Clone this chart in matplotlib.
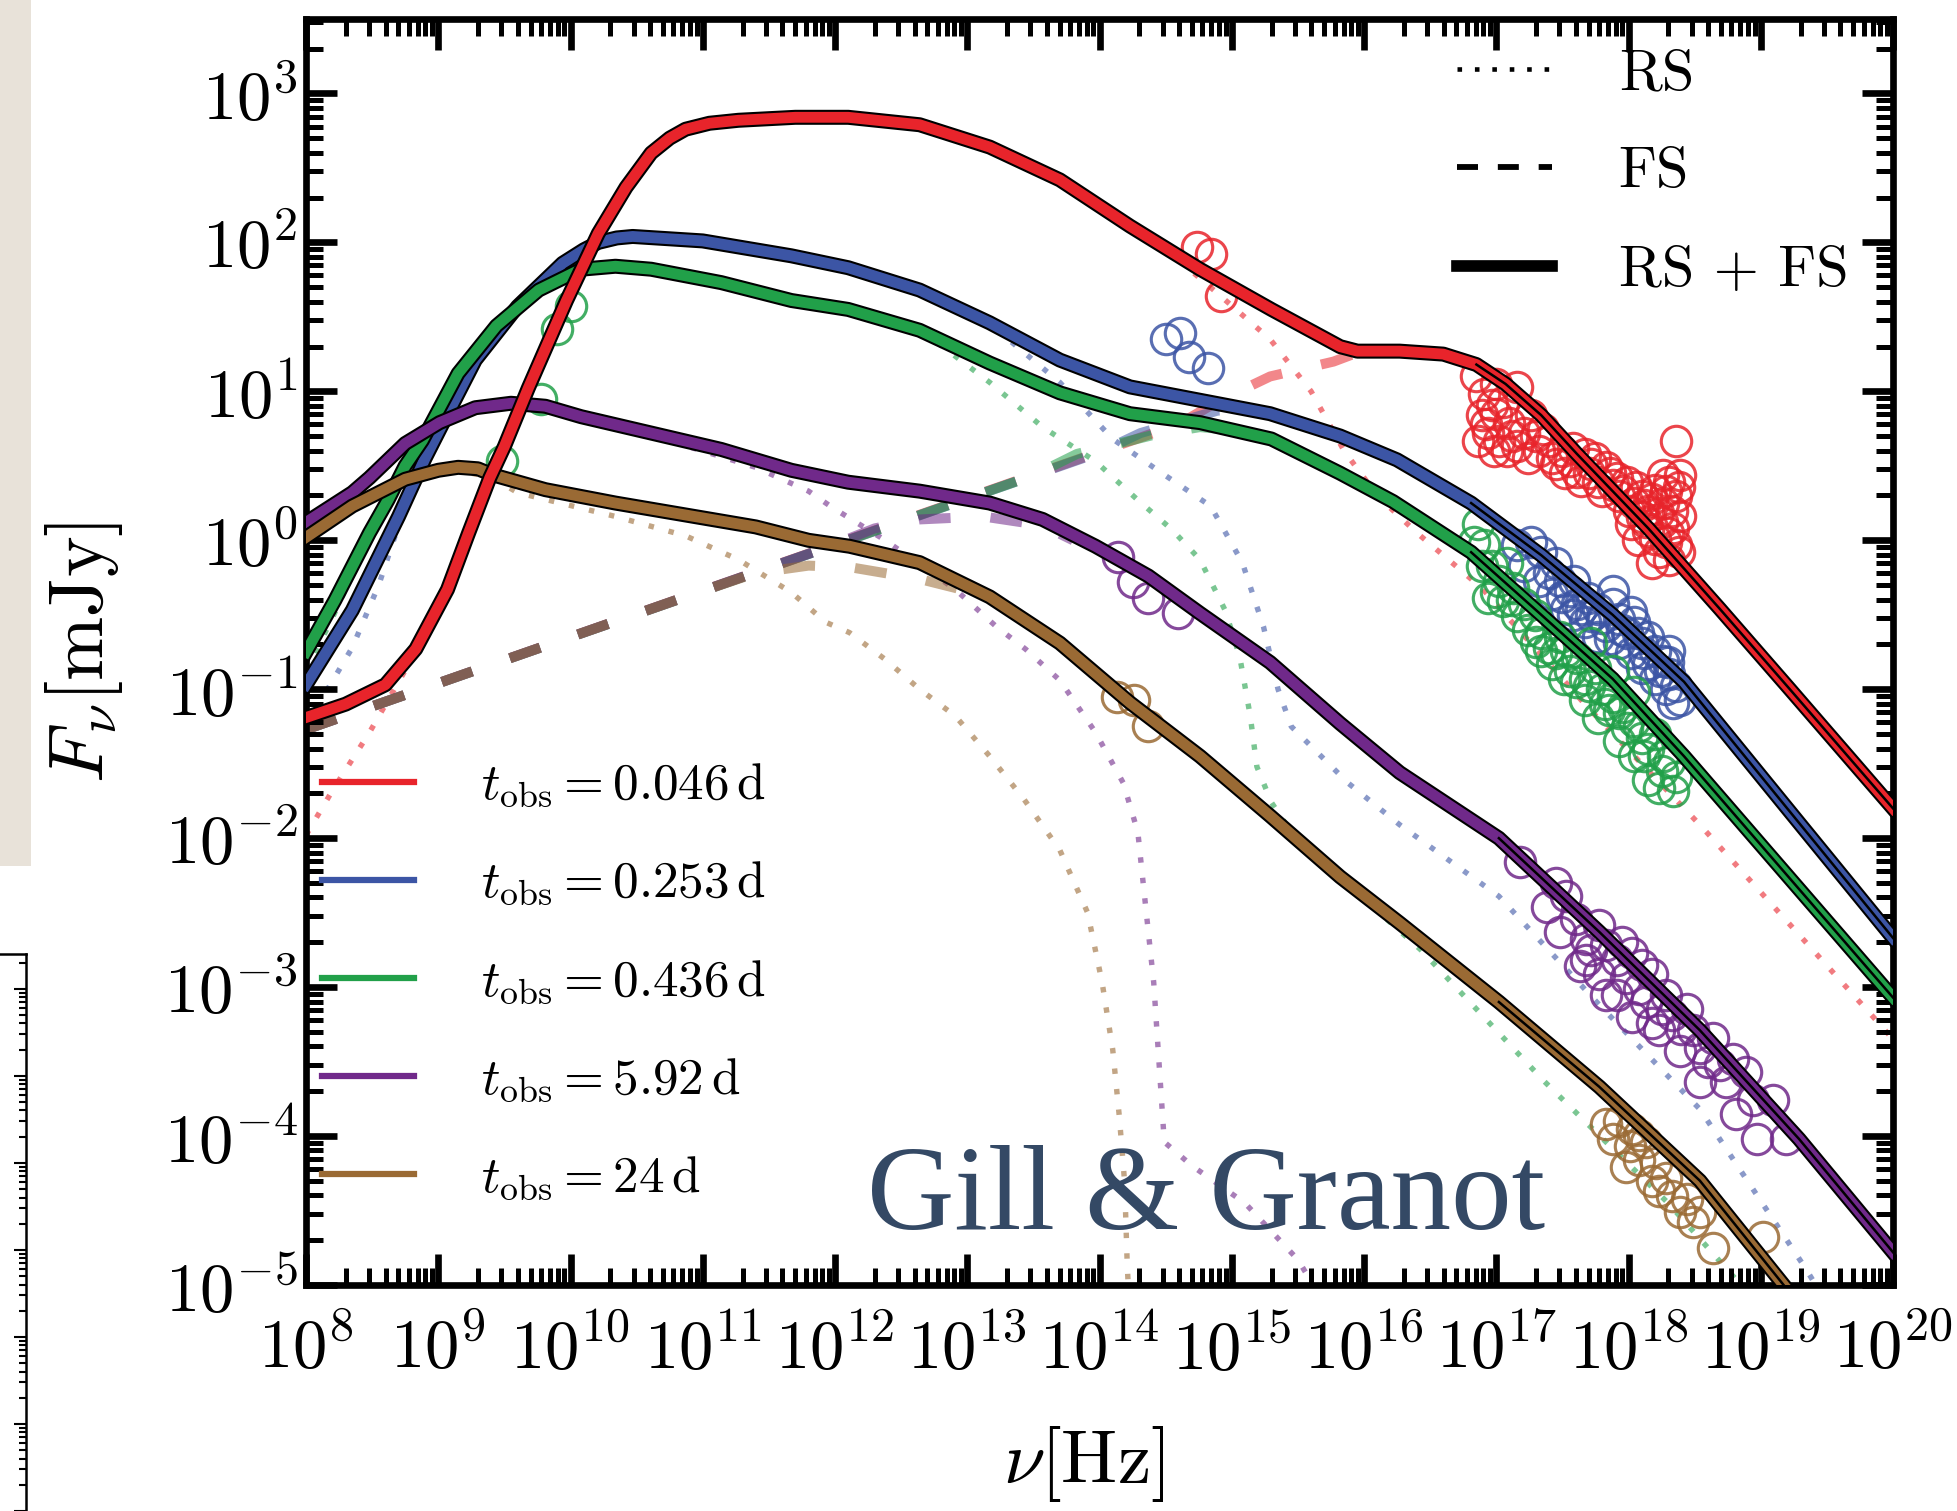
import numpy as np
import matplotlib
matplotlib.use('Agg')
import matplotlib.pyplot as plt
from matplotlib.lines import Line2D
from matplotlib.patches import Rectangle
from matplotlib.ticker import LogLocator, NullFormatter

plt.rcParams['font.family'] = 'serif'
plt.rcParams['font.serif'] = ['cmr10']
plt.rcParams['mathtext.fontset'] = 'cm'
plt.rcParams['axes.formatter.use_mathtext'] = True

# ---- data as log10(nu [Hz]), log10(F [mJy]) ----
t_obs = ['0.046', '0.253', '0.436', '5.92', '24']
colors = ['#e8242b', '#3c55a5', '#21a049', '#70298a', '#9a6a34']

# RS + FS (solid)
red_lx = [8.0, 8.3, 8.6, 8.83, 9.07, 9.23, 9.39, 9.5, 9.68, 9.97, 10.21, 10.42, 10.61, 10.75, 10.87, 11.05, 11.27,
          11.7, 12.1, 12.64, 13.17, 13.7, 14.23, 14.76, 15.3, 15.82, 15.95, 16.27, 16.6, 16.85, 17.07, 17.34, 17.61,
          18.15, 18.69, 19.22, 20.0]
red_ly = [-1.19, -1.1, -0.97, -0.73, -0.33, 0.05, 0.42, 0.63, 1.02, 1.61, 2.06, 2.37, 2.6, 2.7, 2.76, 2.8, 2.82,
          2.84, 2.84, 2.79, 2.64, 2.42, 2.11, 1.82, 1.55, 1.3, 1.27, 1.27, 1.25, 1.18, 1.05, 0.84, 0.58,
          0.08, -0.46, -1.0, -1.8]
blue_lx = [8.0, 8.35, 8.7, 8.9, 9.02, 9.28, 9.6, 9.94, 10.1, 10.21, 10.35, 10.47, 11.0, 11.67, 12.1, 12.64, 13.17,
           13.7, 14.23, 14.76, 15.29, 15.82, 16.25, 16.81, 17.34, 17.88, 18.42, 19.2, 20.0]
blue_ly = [-0.97, -0.47, 0.16, 0.55, 0.76, 1.21, 1.57, 1.86, 1.95, 2.0, 2.03, 2.04, 2.01, 1.91, 1.83, 1.68, 1.46,
           1.21, 1.03, 0.94, 0.85, 0.7, 0.54, 0.25, -0.1, -0.5, -0.95, -1.8, -2.67]
green_lx = [8.0, 8.22, 8.48, 8.62, 8.75, 8.88, 9.15, 9.44, 9.76, 10.08, 10.34, 10.61, 11.14, 11.67, 12.1, 12.64, 13.17,
            13.7, 14.23, 14.76, 15.3, 15.82, 16.22, 16.81, 17.34, 17.88, 18.42, 19.2, 20.0]
green_ly = [-0.75, -0.4, 0.05, 0.27, 0.5, 0.67, 1.12, 1.44, 1.68, 1.82, 1.84, 1.82, 1.73, 1.61, 1.55, 1.41, 1.19,
            0.99, 0.85, 0.79, 0.68, 0.45, 0.26, -0.08, -0.5, -0.93, -1.45, -2.25, -3.07]
purple_lx = [8.0, 8.35, 8.48, 8.75, 9.01, 9.28, 9.55, 9.81, 10.08, 10.61, 11.14, 11.67, 12.1, 12.64, 13.17, 13.57,
             13.97, 14.37, 14.76, 15.29, 15.82, 16.27, 17.02, 17.78, 18.54, 19.29, 20.0]
purple_ly = [0.12, 0.32, 0.42, 0.65, 0.79, 0.89, 0.92, 0.9, 0.83, 0.72, 0.61, 0.47, 0.39, 0.33, 0.25, 0.14,
             -0.04, -0.24, -0.49, -0.82, -1.23, -1.56, -2.0, -2.63, -3.29, -4.02, -4.78]
brown_lx = [8.0, 8.35, 8.75, 9.0, 9.15, 9.3, 9.41, 9.81, 10.34, 10.87, 11.4, 11.8, 12.11, 12.64, 13.17, 13.7, 14.23,
            14.76, 15.29, 15.82, 16.27, 17.02, 17.78, 18.54, 19.2]
brown_ly = [0.02, 0.23, 0.41, 0.47, 0.49, 0.48, 0.44, 0.34, 0.25, 0.17, 0.09, 0.0, -0.04, -0.15, -0.38, -0.69, -1.09,
            -1.45, -1.85, -2.26, -2.57, -3.1, -3.67, -4.3, -5.03]

# RS (dotted)
red_rs_lx = [8.0, 8.2, 8.48, 8.7, 8.83, 9.07, 9.23, 9.39, 9.5, 9.68, 9.97, 10.21, 10.42, 10.61, 10.87, 11.27, 11.7,
             12.1, 12.64, 13.17, 13.7, 14.23, 14.6, 14.89, 15.29, 15.6, 15.85, 16.1, 16.4, 16.89, 17.69, 18.55, 19.85, 20.0]
red_rs_ly = [-1.98, -1.68, -1.29, -0.95, -0.75, -0.33, 0.05, 0.42, 0.63, 1.02, 1.61, 2.06, 2.37, 2.6, 2.76, 2.82, 2.84,
             2.83, 2.79, 2.64, 2.42, 2.11, 1.88, 1.66, 1.35, 1.0, 0.6, 0.3, 0.05, -0.32, -1.12, -1.92, -3.2, -3.35]
blue_rs_lx = [8.0, 8.17, 8.35, 8.55, 8.7, 8.9, 9.02, 9.28, 9.6, 9.94, 10.21, 10.47, 11.0, 11.67, 12.1, 12.64, 13.17,
              13.31, 13.7, 14.1, 14.44, 14.84, 15.08, 15.24, 15.35, 15.45, 15.88, 16.27, 17.02, 17.78, 18.54, 19.34, 19.45]
blue_rs_ly = [-1.25, -0.99, -0.72, -0.3, 0.1, 0.53, 0.75, 1.2, 1.56, 1.85, 1.99, 2.03, 2.0, 1.9, 1.82, 1.67, 1.45,
              1.35, 1.06, 0.68, 0.47, 0.23, -0.15, -0.58, -1.0, -1.25, -1.63, -1.91, -2.39, -3.12, -3.82, -4.89, -5.05]
green_rs_lx = [8.0, 8.2, 8.48, 8.62, 8.75, 8.88, 9.15, 9.44, 9.76, 10.08, 10.34, 10.61, 11.14, 11.67, 12.1, 12.64,
               12.77, 13.17, 13.57, 13.97, 14.29, 14.55, 14.76, 14.95, 15.06, 15.14, 15.19, 15.3, 15.45, 15.64, 16.43,
               17.36, 18.3, 18.9]
green_rs_ly = [-0.88, -0.52, 0.02, 0.26, 0.49, 0.66, 1.11, 1.43, 1.67, 1.81, 1.83, 1.81, 1.72, 1.6, 1.54, 1.4,
               1.33, 1.06, 0.76, 0.53, 0.27, 0.07, -0.13, -0.47, -0.78, -1.18, -1.52, -1.76, -1.96, -2.12, -2.75,
               -3.63, -4.45, -5.05]
purple_rs_lx = [8.0, 8.35, 8.48, 8.75, 9.01, 9.28, 9.55, 9.81, 10.08, 10.61, 11.0, 11.4, 11.8, 11.98, 12.38, 12.91,
                13.22, 13.44, 13.7, 13.97, 14.18, 14.29, 14.33, 14.41, 14.46, 14.49, 14.7, 15.1, 15.5, 15.65]
purple_rs_ly = [0.06, 0.3, 0.39, 0.63, 0.78, 0.88, 0.91, 0.89, 0.82, 0.7, 0.6, 0.49, 0.33, 0.22, 0.0, -0.33,
                -0.58, -0.73, -0.94, -1.29, -1.63, -1.96, -2.3, -2.97, -3.64, -4.04, -4.2, -4.45, -4.83, -5.05]
brown_rs_lx = [8.0, 8.35, 8.75, 9.15, 9.41, 9.6, 10.34, 10.87, 11.27, 11.67, 11.93, 12.11, 12.38, 12.64, 12.91, 13.17,
               13.43, 13.7, 13.91, 14.02, 14.1, 14.15, 14.19, 14.21, 14.22]
brown_rs_ly = [-0.02, 0.2, 0.39, 0.47, 0.42, 0.32, 0.16, 0.03, -0.13, -0.35, -0.55, -0.62, -0.8, -1.0, -1.18, -1.45,
               -1.74, -2.08, -2.5, -2.97, -3.42, -3.87, -4.31, -4.87, -5.05]

# FS (dashed)
red_fs_lx = [8.0, 14.6, 14.89, 15.29, 15.77, 15.95, 16.27]
red_fs_ly = [-1.27, 0.78, 0.93, 1.1, 1.2, 1.26, 1.27]
blue_fs_lx = [8.0, 14.0, 14.31, 14.89, 15.2]
blue_fs_ly = [-1.27, 0.59, 0.72, 0.87, 0.89]
green_fs_lx = [8.0, 13.5, 13.83, 14.42, 14.76, 15.0]
green_fs_ly = [-1.27, 0.435, 0.58, 0.71, 0.76, 0.74]
purple_fs_lx = [8.0, 11.9, 12.3, 12.64, 13.12, 13.57, 13.8]
purple_fs_ly = [-1.27, -0.06, 0.08, 0.14, 0.16, 0.1, 0.0]
brown_fs_lx = [8.0, 11.0, 11.4, 11.8, 12.11, 12.64, 13.0]
brown_fs_ly = [-1.27, -0.34, -0.22, -0.17, -0.18, -0.26, -0.34]

# observed points (log nu, log F)
red_pts = [(14.74, 1.97), (14.84, 1.92), (14.92, 1.64),
           (16.85, 1.10), (16.91, 0.98), (16.89, 0.84), (16.97, 0.91), (17.05, 0.93), (16.94, 0.72), (17.02, 0.67),
           (17.10, 0.79), (17.16, 0.63), (17.21, 0.72), (17.26, 0.84), (17.32, 0.60), (17.40, 0.67), (17.45, 0.51),
           (17.50, 0.60), (17.56, 0.53), (17.61, 0.46), (17.67, 0.58), (17.72, 0.51), (17.77, 0.39), (17.83, 0.49),
           (17.88, 0.37), (17.93, 0.30), (17.99, 0.39), (18.04, 0.25), (18.10, 0.30), (18.15, 0.20), (18.20, 0.34),
           (18.26, 0.25), (18.31, 0.39), (18.36, 0.30), (18.39, 0.16), (18.34, 0.085), (18.28, -0.01), (18.23, -0.08),
           (18.18, -0.15), (18.36, -0.03), (18.39, 0.44), (18.26, 0.44), (18.36, 0.67), (17.16, 1.03), (17.0, 1.05),
           (16.86, 0.67), (17.08, 0.60), (17.24, 0.555), (18.02, 0.11), (18.15, 0.06), (18.31, -0.13), (18.20, 0.01),
           (18.10, 0.155), (17.35, 0.75), (17.42, 0.55), (17.52, 0.45), (17.58, 0.62), (17.64, 0.40), (17.70, 0.45),
           (17.75, 0.55), (17.80, 0.33), (17.86, 0.45), (17.91, 0.42), (17.96, 0.33), (18.0, 0.20), (18.06, 0.36),
           (18.12, 0.24), (18.18, 0.28), (18.22, 0.18), (18.28, 0.33), (18.33, 0.20), (18.38, 0.36), (18.30, 0.05),
           (18.25, 0.12), (18.13, 0.12), (18.07, 0.0), (18.38, -0.08), (16.92, 0.78), (17.0, 0.85), (17.12, 0.70),
           (16.98, 0.60), (17.30, 0.70)]
blue_pts = [(14.50, 1.35), (14.61, 1.39), (14.68, 1.23), (14.82, 1.16),
            (17.16, -0.03), (17.26, -0.01), (17.34, -0.08), (17.21, -0.175), (17.40, -0.22), (17.48, -0.27),
            (17.56, -0.34), (17.61, -0.43), (17.69, -0.39), (17.77, -0.46), (17.88, -0.43), (17.93, -0.53),
            (17.83, -0.575), (17.99, -0.62), (18.04, -0.55), (18.10, -0.69), (18.15, -0.65), (18.20, -0.74),
            (18.15, -0.83), (18.26, -0.81), (18.31, -0.90), (18.36, -0.98), (18.39, -1.07), (18.34, -1.09),
            (18.28, -1.0), (18.20, -0.93), (18.10, -0.86), (18.02, -0.76), (17.93, -0.69), (17.77, -0.65),
            (17.67, -0.55), (17.53, -0.46), (17.42, -0.36), (17.32, -0.27), (17.88, -0.34), (18.02, -0.48),
            (18.31, -0.74), (17.72, -0.505), (17.45, -0.15), (17.59, -0.27), (17.5, -0.38), (17.64, -0.46),
            (17.8, -0.52), (17.95, -0.60), (18.07, -0.62), (18.12, -0.76), (18.24, -0.88), (18.3, -0.82),
            (17.86, -0.66), (17.58, -0.50)]
green_pts = [(10.0, 1.57), (9.90, 1.42), (9.78, 0.95), (9.48, 0.53),
             (16.86, 0.108), (16.91, -0.033), (16.83, -0.01), (16.97, -0.175), (16.89, -0.175), (17.02, -0.27),
             (17.08, -0.15), (16.94, -0.39), (17.05, -0.41), (17.13, -0.32), (17.21, -0.43), (17.29, -0.50),
             (17.34, -0.62), (17.40, -0.72), (17.48, -0.65), (17.53, -0.74), (17.61, -0.79), (17.56, -0.88),
             (17.67, -0.93), (17.75, -0.86), (17.80, -1.0), (17.88, -1.05), (17.85, -1.14), (17.93, -1.16),
             (17.99, -1.26), (18.04, -1.21), (18.10, -1.33), (18.15, -1.40), (18.20, -1.30), (18.26, -1.45),
             (18.31, -1.49), (18.36, -1.59), (18.34, -1.68), (18.23, -1.66), (18.15, -1.61), (18.04, -1.45),
             (17.93, -1.35), (17.77, -1.19), (17.67, -1.07), (17.51, -0.93), (17.42, -0.83), (17.24, -0.60),
             (17.16, -0.505), (17.34, -0.74), (17.72, -0.69), (17.88, -0.88), (18.04, -1.02), (17.45, -0.76),
             (17.6, -0.95), (17.7, -0.98), (17.82, -1.1), (17.96, -1.12), (18.08, -1.25), (18.12, -1.45),
             (18.25, -1.55), (17.3, -0.68), (17.12, -0.40), (17.0, -0.35)]
purple_pts = [(14.14, -0.11), (14.25, -0.28), (14.37, -0.39), (14.59, -0.49), (17.18, -2.16),
              (17.45, -2.30), (17.53, -2.39), (17.38, -2.46), (17.60, -2.54), (17.48, -2.63), (17.68, -2.68),
              (17.78, -2.58), (17.83, -2.72), (17.68, -2.82), (17.91, -2.82), (18.03, -2.77), (17.98, -2.94),
              (18.08, -3.01), (18.18, -2.91), (18.13, -3.10), (18.28, -3.05), (18.33, -3.19), (18.44, -3.15),
              (18.23, -3.29), (18.49, -3.29), (18.54, -3.41), (18.64, -3.34), (18.69, -3.52), (18.79, -3.48),
              (18.74, -3.64), (18.89, -3.57), (18.94, -3.76), (19.09, -3.76), (18.97, -4.02), (19.19, -4.02),
              (18.81, -3.85), (17.91, -3.05), (17.78, -2.91), (17.63, -2.86), (18.39, -3.43), (18.54, -3.64),
              (18.03, -3.20), (17.83, -3.05), (18.18, -3.24), (17.95, -2.70), (18.1, -2.85), (18.25, -3.15),
              (18.4, -3.28), (18.6, -3.5), (17.72, -2.75)]
brown_pts = [(14.13, -1.05), (14.26, -1.07), (14.37, -1.25),
             (17.83, -3.92), (17.93, -3.90), (18.03, -3.95), (17.88, -4.02), (18.01, -4.07), (18.13, -4.04),
             (18.08, -4.16), (18.21, -4.18), (18.18, -4.30), (18.28, -4.28), (18.33, -4.40), (18.44, -4.42),
             (18.39, -4.51), (18.54, -4.51), (18.49, -4.58), (18.64, -4.75), (19.02, -4.68), (17.98, -4.21),
             (18.23, -4.37), (18.08, -3.99)]

solid = [(red_lx, red_ly), (blue_lx, blue_ly), (green_lx, green_ly), (purple_lx, purple_ly), (brown_lx, brown_ly)]
rs = [(red_rs_lx, red_rs_ly), (blue_rs_lx, blue_rs_ly), (green_rs_lx, green_rs_ly),
      (purple_rs_lx, purple_rs_ly), (brown_rs_lx, brown_rs_ly)]
fs = [(red_fs_lx, red_fs_ly), (blue_fs_lx, blue_fs_ly), (green_fs_lx, green_fs_ly),
      (purple_fs_lx, purple_fs_ly), (brown_fs_lx, brown_fs_ly)]
pts = [red_pts, blue_pts, green_pts, purple_pts, brown_pts]


def p10(a):
    return np.power(10.0, np.asarray(a, dtype=float))


fig = plt.figure(figsize=(1957 / 300, 1511 / 300), dpi=300)

# scrap of the neighbouring page on the left
fig.patches.append(Rectangle((0, 1 - 866 / 1511), 31 / 1957, 866 / 1511, transform=fig.transFigure,
                             facecolor='#e8e2d9', edgecolor='none', zorder=0))
fax = fig.add_axes([0, 0, 26 / 1957, 557 / 1511])
fax.patch.set_alpha(0)
fax.set_yscale('log')
fax.set_ylim(1, 10 ** 6.4)
fax.set_xticks([])
for s in ['left', 'bottom']:
    fax.spines[s].set_visible(False)
for s in ['right', 'top']:
    fax.spines[s].set_linewidth(0.6)
fax.yaxis.set_major_locator(LogLocator(base=10, numticks=20))
fax.yaxis.set_minor_locator(LogLocator(base=10, subs=np.arange(2, 10), numticks=100))
fax.yaxis.set_minor_formatter(NullFormatter())
fax.tick_params(axis='y', which='both', left=False, right=True, labelleft=False, direction='in', width=0.5)
fax.tick_params(axis='y', which='major', length=3)
fax.tick_params(axis='y', which='minor', length=1.8)

ax = fig.add_axes([306 / 1957, 1 - 1285 / 1511, 1587 / 1957, 1266 / 1511])
ax.set_xscale('log')
ax.set_yscale('log')

# FS dashed, brown drawn last so it sits on top of the shared part
for (lx, ly), c in zip(fs, colors):
    ax.plot(p10(lx), p10(ly), color=c, lw=2.4, ls=(0, (3.2, 4.0)), alpha=0.55, zorder=1.2)

# RS dotted
for (lx, ly), c in zip(rs, colors):
    ax.plot(p10(lx), p10(ly), color=c, lw=1.3, ls=(0, (1, 2.8)), alpha=0.6, zorder=1.1)

# data
for pp, c in zip(pts, colors):
    x, y = zip(*pp)
    ax.plot(p10(x), p10(y), 'o', mfc='none', mec=c, ms=7.3, mew=0.75, alpha=0.85, zorder=2)

# RS + FS solid with black outline
order = [1, 2, 3, 4, 0]
for k, i in enumerate(order):
    lx, ly = solid[i]
    ax.plot(p10(lx), p10(ly), color='k', lw=3.6, solid_joinstyle='round', zorder=3 + 0.1 * k)
    ax.plot(p10(lx), p10(ly), color=colors[i], lw=2.6, solid_joinstyle='round', zorder=3.05 + 0.1 * k)
    lxa, lya = np.asarray(lx), np.asarray(ly)
    m = lxa >= 16.8
    ax.plot(p10(lxa[m]), p10(lya[m]), color='k', lw=0.6, zorder=3.08 + 0.1 * k)

ax.set_xlim(1e8, 1e20)
ax.set_ylim(1e-5, 10 ** 3.5)

ax.xaxis.set_major_locator(LogLocator(base=10, numticks=30))
ax.yaxis.set_major_locator(LogLocator(base=10, numticks=30))
for a in (ax.xaxis, ax.yaxis):
    a.set_minor_locator(LogLocator(base=10, subs=np.arange(2, 10), numticks=200))
    a.set_minor_formatter(NullFormatter())

for s in ax.spines.values():
    s.set_linewidth(1.6)
ax.tick_params(which='both', direction='in', top=True, right=True)
ax.tick_params(which='major', length=7.5, width=1.6)
ax.tick_params(which='minor', length=4, width=1.2)
ax.tick_params(axis='x', labelsize=16.5, pad=7.5)
ax.tick_params(axis='y', labelsize=16.5, pad=2)

ax.set_xlabel(r'$\nu[\mathrm{Hz}]$', fontsize=18)
ax.xaxis.set_label_coords(0.49, -0.11)
ax.set_ylabel(r'$F_{\nu}[\mathrm{mJy}]$', fontsize=18.5)
ax.yaxis.set_label_coords(-0.114, 0.5)

# legend of line styles
style_handles = [Line2D([], [], color='k', lw=1.1, ls=(0, (1, 2.8))),
                 Line2D([], [], color='k', lw=1.4, ls=(0, (3.6, 3.4))),
                 Line2D([], [], color='k', lw=2.8)]
leg1 = ax.legend(style_handles, ['RS', 'FS', r'RS + FS'], loc='upper left', bbox_to_anchor=(0.7253, 0.977),
                 frameon=False, fontsize=14, handlelength=1.62, handletextpad=1.15, labelspacing=0.8,
                 borderpad=0, borderaxespad=0)
ax.add_artist(leg1)

# legend of epochs
time_handles = [Line2D([], [], color=c, lw=1.5) for c in colors]
time_labels = [r'$t_{\rm obs} = %s\,{\rm d}$' % t for t in t_obs]
ax.legend(time_handles, time_labels, loc='upper left', bbox_to_anchor=(0.0101, 0.413), frameon=False,
          fontsize=12.3, handlelength=1.8, handletextpad=1.3, labelspacing=0.98, borderpad=0, borderaxespad=0)

fig.text(867 / 1957, 1 - 1229 / 1511, 'Gill & Granot', family='Liberation Serif', fontsize=29,
         color='#344965', ha='left', va='baseline', zorder=10)

fig.savefig('out.png', dpi=300)
